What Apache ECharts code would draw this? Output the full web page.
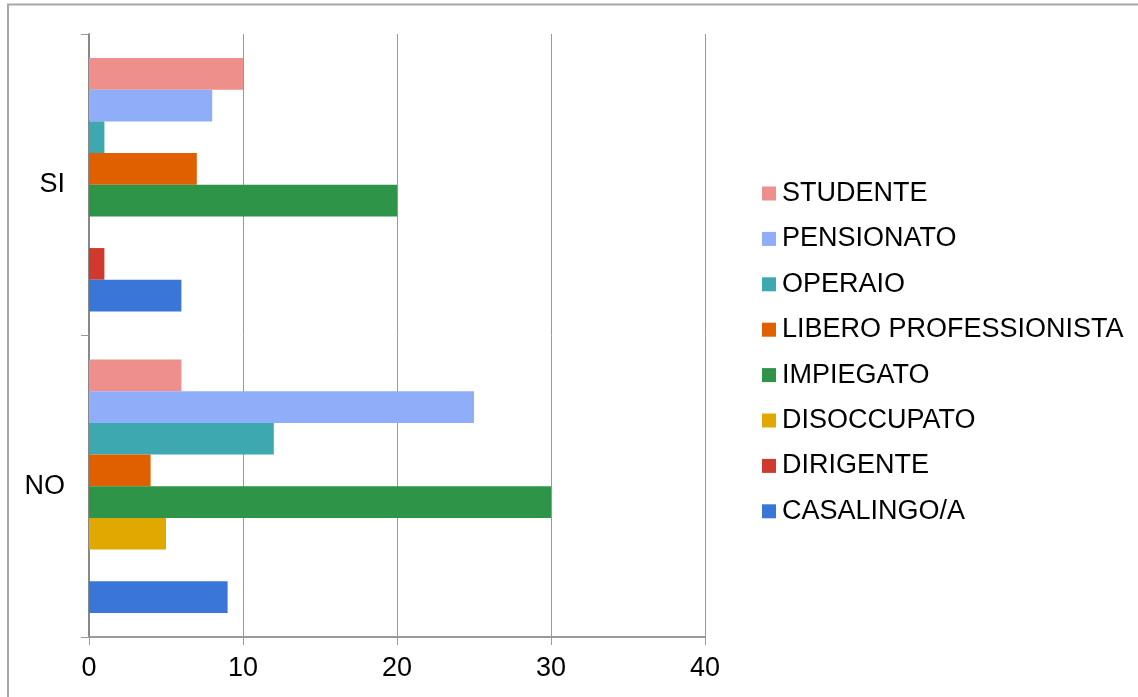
<!DOCTYPE html>
<html>
<head>
<meta charset="utf-8">
<script src="https://cdn.jsdelivr.net/npm/echarts@6/dist/echarts.min.js"></script>
<style>
  html, body { margin: 0; padding: 0; background: #ffffff; }
  #chart { width: 1138px; height: 697px; }
</style>
</head>
<body>
<div id="chart"></div>
<script>
// Answer groups on the vertical axis
const categories = ['SI', 'NO'];

// Occupation series, in legend order
const seriesNames = [
  'STUDENTE', 'PENSIONATO', 'OPERAIO', 'LIBERO PROFESSIONISTA',
  'IMPIEGATO', 'DISOCCUPATO', 'DIRIGENTE', 'CASALINGO/A'
];

// Counts per occupation: [SI, NO]
const studente     = [10, 6];
const pensionato   = [8, 25];
const operaio      = [1, 12];
const libero       = [7, 4];
const impiegato    = [20, 30];
const disoccupato  = [0, 5];
const dirigente    = [1, 0];
const casalingo    = [6, 9];

const seriesValues = [studente, pensionato, operaio, libero, impiegato, disoccupato, dirigente, casalingo];

const seriesColors = [
  '#ee8f8b', '#8fadf8', '#3ea8b0', '#e06000',
  '#2e9448', '#e0a800', '#d03a2e', '#3a75d8'
];

// Value axis range
const xMin = 0;
const xMax = 40;
const xStep = 10;

const chart = echarts.init(document.getElementById('chart'), null, { renderer: 'canvas' });

const FONT = '"Liberation Sans", Arial, sans-serif';

chart.setOption({
  animation: false,
  backgroundColor: '#ffffff',
  textStyle: { fontFamily: FONT },
  graphic: [
    { type: 'line', shape: { x1: 8, y1: 4, x2: 8, y2: 697 }, style: { stroke: '#a8a8a8', lineWidth: 2 } },
    { type: 'line', shape: { x1: 7, y1: 4.5, x2: 1138, y2: 4.5 }, style: { stroke: '#a8a8a8', lineWidth: 2 } }
  ],
  grid: { left: 89, right: 433, top: 34, bottom: 60, containLabel: false },
  legend: {
    orient: 'vertical',
    left: 757,
    top: 175,
    itemWidth: 14,
    itemHeight: 14,
    itemGap: 18.4,
    icon: 'rect',
    data: seriesNames,
    textStyle: { fontFamily: FONT, fontSize: 27, lineHeight: 27, color: '#000000', padding: [0, 0, 0, 1] }
  },
  xAxis: {
    type: 'value',
    min: xMin,
    max: xMax,
    interval: xStep,
    axisLine: { show: true, lineStyle: { color: '#9a9a9a', width: 2 } },
    axisTick: { show: true, length: 8, lineStyle: { color: '#9a9a9a', width: 1 } },
    axisLabel: { fontFamily: FONT, fontSize: 27, color: '#000000', margin: 18 },
    splitLine: { show: true, lineStyle: { color: '#999999', width: 1 } }
  },
  yAxis: {
    type: 'category',
    data: categories,
    inverse: true,
    axisLine: { show: true, lineStyle: { color: '#888888', width: 2 } },
    axisTick: { show: true, length: 8, lineStyle: { color: '#9a9a9a', width: 1 } },
    axisLabel: { fontFamily: FONT, fontSize: 27, color: '#000000', margin: 24 }
  },
  series: seriesNames.map((name, i) => ({
    name: name,
    type: 'bar',
    data: seriesValues[i],
    barGap: '0%',
    barCategoryGap: '16%',
    itemStyle: { color: seriesColors[i] }
  }))
});
</script>
</body>
</html>
